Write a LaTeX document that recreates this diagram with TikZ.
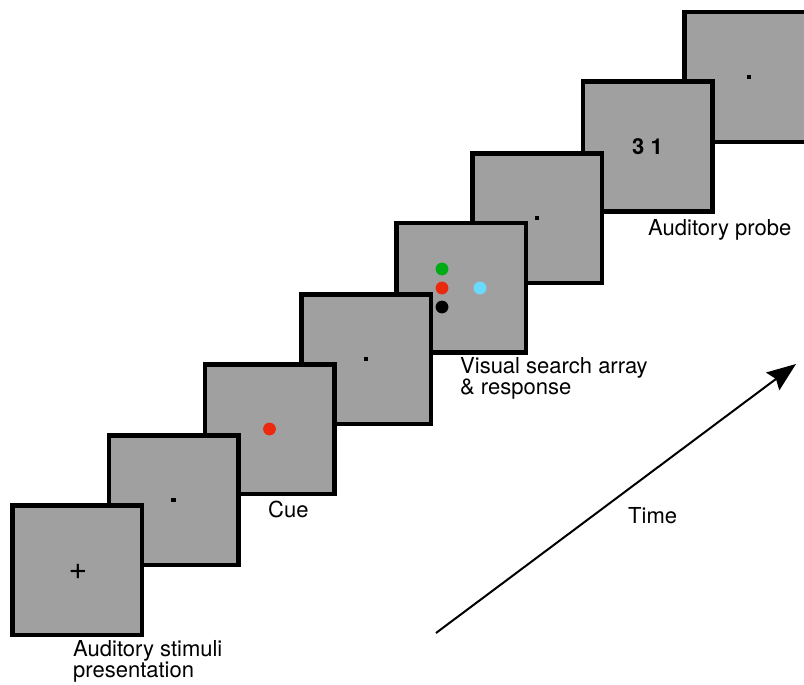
\documentclass[tikz,border=0pt]{standalone}
\usepackage{fontspec}
\setmainfont{TeX Gyre Heros}
\usetikzlibrary{arrows.meta}
\definecolor{scrgray}{RGB}{160,160,160}
\definecolor{dotred}{RGB}{236,40,14}
\definecolor{dotgreen}{RGB}{0,172,22}
\definecolor{dotcyan}{RGB}{108,218,255}
\tikzset{
  screen/.style={draw=black, fill=scrgray, line width=4.5pt, minimum size=129.5pt, inner sep=0pt, shape=rectangle, font=\fontsize{22}{24}\selectfont},
  fix/.style={fill=black, minimum size=4.5pt, inner sep=0pt, shape=rectangle},
  stim/.style={shape=circle, minimum size=12.8pt, inner sep=0pt},
  lbl/.style={anchor=base west, align=left, inner sep=0pt, font=\fontsize{22}{20.5}\selectfont},
}
\begin{document}
\begin{tikzpicture}[x=1pt, y=-1pt]
\useasboundingbox (0,0) rectangle (804,685);
\clip (0,0) rectangle (804,685);
% screen 8 (back)
\node[screen] (s8) at (749,77) {};
\node[fix] (f8) at (s8.center) {};
% screen 7
\node[screen, font=\fontsize{22}{24}\selectfont\bfseries] (s7) at (647.5,146.5) {3 1};
% screen 6
\node[screen] (s6) at (537,218) {};
\node[fix] (f6) at (s6.center) {};
% screen 5
\node[screen] (s5) at (461,287.5) {};
\node[stim, fill=dotgreen] (g5) at (442,269) {};
\node[stim, fill=dotred] (r5) at (442,288) {};
\node[stim, fill=black] (k5) at (442,307) {};
\node[stim, fill=dotcyan] (c5) at (480,288) {};
% screen 4
\node[screen] (s4) at (366,359) {};
\node[fix] (f4) at (s4.center) {};
% screen 3
\node[screen] (s3) at (269.5,429) {};
\node[stim, fill=dotred] (r3) at (s3.center) {};
% screen 2
\node[screen] (s2) at (173.5,500) {};
\node[fix] (f2) at (s2.center) {};
% screen 1 (front)
\node[screen] (s1) at (77,570) {};
\node[inner sep=0pt, font=\fontsize{32}{34}\selectfont] (p1) at (78,572) {+};
% labels
\node[lbl] (l1) at (73,677) {Auditory stimuli\\presentation};
\node[lbl] (l3) at (268,517) {Cue};
\node[lbl] (l5) at (460,394) {Visual search array\\\& response};
\node[lbl] (l7) at (648,235) {Auditory probe};
\node[lbl] (lt) at (628,523) {Time};
% time arrow
\coordinate (t0) at (436,633);
\coordinate (t1) at (796,364);
\draw[line width=2pt, -{Stealth[length=29pt, width=22pt, inset=4pt]}] (t0) -- (t1);
\end{tikzpicture}
\end{document}
